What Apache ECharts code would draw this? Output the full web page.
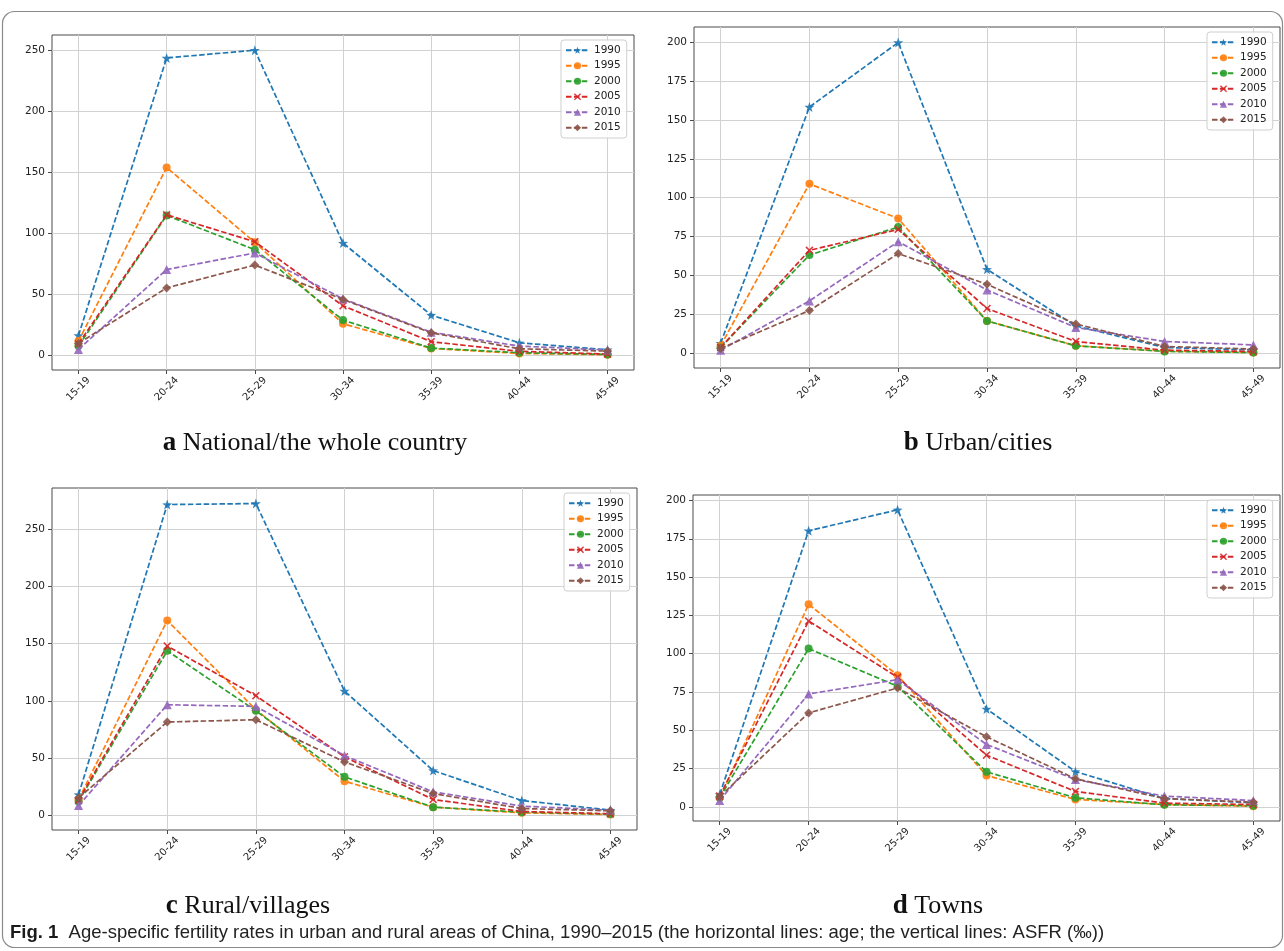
<!DOCTYPE html>
<html>
<head>
<meta charset="utf-8">
<script src="https://cdn.jsdelivr.net/npm/echarts@6/dist/echarts.min.js"></script>
<style>
html,body{margin:0;padding:0;background:#fff;}
#chart{width:1284px;height:951px;}
</style>
</head>
<body>
<div id="chart"></div>
<script>
// ---- data ----
const ageGroups = ['15-19','20-24','25-29','30-34','35-39','40-44','45-49'];
const years = ['1990','1995','2000','2005','2010','2015'];
const yTicksA = [0,50,100,150,200,250];
const yTicksB = [0,25,50,75,100,125,150,175,200];
const yTicksC = [0,50,100,150,200,250];
const yTicksD = [0,25,50,75,100,125,150,175,200];

// rows follow the order of `years`
const nationalRates = [
  [16.3, 243.7, 250.0, 92.0, 33.0, 10.3, 4.6],
  [11.7, 153.9, 92.6, 25.9, 5.7, 1.6, 0.5],
  [7.6, 114.7, 86.6, 28.9, 6.0, 2.2, 0.8],
  [9.5, 115.2, 93.1, 40.6, 11.2, 3.3, 1.1],
  [4.9, 70.3, 83.9, 46.3, 19.0, 7.6, 4.4],
  [9.8, 55.3, 74.0, 45.8, 18.5, 5.4, 3.5]
];
const urbanRates = [
  [6.4, 158.3, 199.8, 53.9, 17.5, 3.6, 2.1],
  [4.7, 108.9, 86.6, 20.7, 4.7, 1.3, 0.4],
  [3.6, 63.1, 81.1, 20.7, 4.7, 1.1, 0.4],
  [3.6, 66.1, 79.6, 28.7, 7.5, 1.9, 1.1],
  [1.9, 33.6, 71.7, 40.6, 16.5, 7.5, 5.3],
  [3.0, 27.4, 64.0, 44.3, 18.8, 4.3, 2.6]
];
const ruralRates = [
  [18.0, 271.8, 272.7, 108.6, 39.0, 12.8, 4.4],
  [13.7, 170.3, 92.3, 29.7, 7.0, 2.0, 0.6],
  [12.0, 143.8, 91.4, 33.5, 7.0, 2.6, 0.9],
  [13.0, 148.0, 104.5, 51.0, 13.7, 3.2, 1.2],
  [8.4, 96.6, 95.2, 52.1, 20.4, 7.9, 4.4],
  [15.1, 81.5, 83.5, 46.6, 18.9, 5.8, 3.8]
];
const townRates = [
  [8.0, 180.2, 193.9, 63.9, 23.0, 5.4, 2.6],
  [5.9, 132.2, 85.9, 20.4, 4.8, 1.5, 0.4],
  [5.9, 103.3, 78.7, 22.8, 5.9, 1.3, 0.7],
  [7.0, 121.3, 84.6, 33.7, 10.0, 2.4, 1.5],
  [4.1, 73.7, 83.0, 40.7, 17.8, 7.0, 4.1],
  [6.5, 61.3, 77.6, 45.7, 18.3, 5.4, 3.0]
];
const panelLetters = ['a','b','c','d'];
const panelTitles = ['National/the whole country','Urban/cities','Rural/villages','Towns'];
const figCaptionLabel = 'Fig. 1';
const figCaptionText = 'Age-specific fertility rates in urban and rural areas of China, 1990\u20132015 (the horizontal lines: age; the vertical lines: ASFR (\u2030))';

// ---- styling / layout ----
const colors = ['#1f77b4','#ff7f0e','#2ca02c','#d62728','#9467bd','#8c564b'];
const STAR = 'path://M0,-10 L2.35,-3.24 L9.51,-3.09 L3.8,1.24 L5.88,8.09 L0,4 L-5.88,8.09 L-3.8,1.24 L-9.51,-3.09 L-2.35,-3.24 Z';
const XMARK = 'path://M-5,-3.6 L-3.6,-5 L0,-1.4 L3.6,-5 L5,-3.6 L1.4,0 L5,3.6 L3.6,5 L0,1.4 L-3.6,5 L-5,3.6 L-1.4,0 Z';
const symbols = [STAR,'circle','circle',XMARK,'triangle','diamond'];
const symbolSizes = [10,8,8,8,9,9];

const panels = [
  {rates: nationalRates, ticks: yTicksA, grid:{left:52, top:35, width:582, height:335}},
  {rates: urbanRates,    ticks: yTicksB, grid:{left:694, top:27, width:586, height:341}},
  {rates: ruralRates,    ticks: yTicksC, grid:{left:52, top:488, width:585, height:342}},
  {rates: townRates,     ticks: yTicksD, grid:{left:693, top:495, width:587, height:326}}
];
const captionPos = [[315,443],[978,443],[248,906],[938,906]];

const FONT = 'DejaVu Sans';
const grids = [], xAxes = [], yAxes = [], series = [], legends = [];

panels.forEach((p, pi) => {
  const all = p.rates.flat();
  const dmin = Math.min(...all), dmax = Math.max(...all);
  const pad = (dmax - dmin) * 0.05;
  grids.push(Object.assign({show:true, borderColor:'#4a4a4a', borderWidth:1, backgroundColor:'transparent'}, p.grid));
  xAxes.push({
    type:'value', gridIndex:pi, min:-0.3, max:ageGroups.length - 1 + 0.3, position:'bottom',
    axisLine:{show:false, onZero:false},
    axisTick:{show:true, inside:false, customValues: ageGroups.map((_, i) => i), length:4, lineStyle:{color:'#4a4a4a'}},
    axisLabel:{show:true, customValues: ageGroups.map((_, i) => i), formatter: v => ageGroups[Math.round(v)],
      rotate:45, align:'center', verticalAlign:'middle', margin:19, fontSize:10, color:'#222', fontFamily:FONT},
    splitLine:{show:true, lineStyle:{color:'#d2d2d2', width:1}}
  });
  yAxes.push({
    type:'value', gridIndex:pi, min: dmin - pad, max: dmax + pad, position:'left',
    axisLine:{show:false, onZero:false},
    axisTick:{show:true, inside:false, customValues: p.ticks, length:4, lineStyle:{color:'#4a4a4a'}},
    axisLabel:{show:true, customValues: p.ticks, fontSize:10.5, color:'#222', fontFamily:FONT, margin:7},
    splitLine:{show:true, lineStyle:{color:'#d2d2d2', width:1}}
  });
  p.rates.forEach((row, si) => {
    series.push({
      type:'line', name: years[si], xAxisIndex:pi, yAxisIndex:pi,
      data: row.map((v, j) => [j, v]),
      symbol: symbols[si], symbolSize: symbolSizes[si], showSymbol:true,
      lineStyle:{color:colors[si], width:1.7, type:[5.5,2.4]},
      itemStyle:{color:colors[si], opacity:0.9},
      z: 2 + si
    });
  });
  const right = p.grid.left + p.grid.width - 5;
  legends.push({
    show:true, orient:'vertical', left: right - 68, top: p.grid.top + 5,
    data: years, selectedMode:false,
    itemWidth:23, itemHeight:9, itemGap:3,
    padding:[4,6,4,4],
    backgroundColor:'rgba(255,255,255,0.85)', borderColor:'#cfcfcf', borderWidth:1, borderRadius:3,
    textStyle:{fontSize:10.5, color:'#222', fontFamily:FONT, lineHeight:12.5}
  });
});

const graphics = [
  {type:'rect', silent:true, shape:{x:2.5, y:11.5, width:1280, height:936, r:12},
   style:{fill:'none', stroke:'#8a8a8a', lineWidth:1.2}}
];
panelLetters.forEach((L, i) => {
  graphics.push({
    type:'text', silent:true, x:captionPos[i][0], y:captionPos[i][1],
    style:{
      text:'{b|' + L + '}{t| ' + panelTitles[i] + '}',
      align:'center', verticalAlign:'middle',
      rich:{
        b:{fontFamily:'Liberation Serif', fontWeight:'bold', fontSize:27, fill:'#111'},
        t:{fontFamily:'Liberation Serif', fontSize:26, fill:'#111'}
      }
    }
  });
});
graphics.push({
  type:'text', silent:true, x:10, y:933,
  style:{
    text:'{b|' + figCaptionLabel + '}{t|  ' + figCaptionText + '}',
    align:'left', verticalAlign:'middle',
    rich:{
      b:{fontFamily:'Liberation Sans', fontWeight:'bold', fontSize:18.5, fill:'#1a1a1a'},
      t:{fontFamily:'Liberation Sans', fontSize:18.5, fill:'#222'}
    }
  }
});

const chart = echarts.init(document.getElementById('chart'), null, {renderer:'canvas'});
chart.setOption({
  animation:false,
  backgroundColor:'#fff',
  grid: grids, xAxis: xAxes, yAxis: yAxes, series: series, legend: legends,
  graphic: graphics
});
</script>
</body>
</html>
